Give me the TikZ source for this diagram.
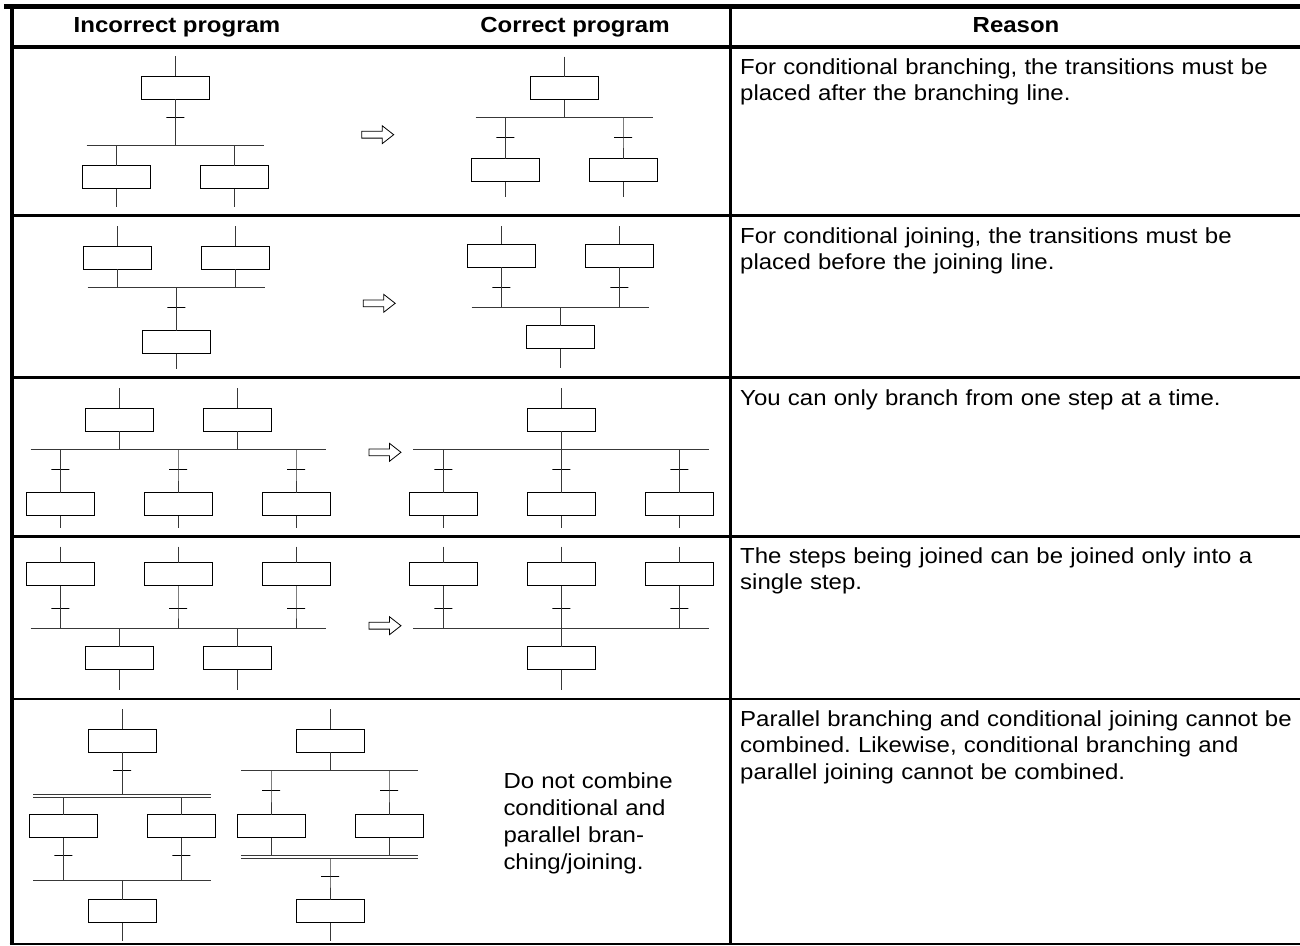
\documentclass[tikz,border=0pt]{standalone}
\usepackage{fontspec}
\setmainfont{Liberation Sans}[FakeStretch=1.1]
\usetikzlibrary{shapes.arrows}
\frenchspacing

\tikzset{
  stepbox/.style={draw=black, line width=0.95pt, minimum width=68pt, minimum height=23pt,
                  inner sep=0pt, outer sep=0pt, fill=white},
  trans/.style={draw=black, line width=0.95pt, minimum width=18pt, minimum height=0pt,
                inner sep=0pt, outer sep=0pt},
  link/.style={draw=black!78, line width=1pt},
  hollowarrow/.style={single arrow, draw=black, line width=0.8pt, inner xsep=0pt,
                inner ysep=3pt, minimum height=32pt, single arrow head extend=5.5pt,
                single arrow tip angle=76, outer sep=0pt},
  head/.style={font=\bfseries\fontsize{21.8}{26}\selectfont, inner sep=0pt, anchor=base},
  reason/.style={font=\fontsize{21.8}{26.2}\selectfont, text width=556pt, align=left,
                 inner sep=0pt, anchor=base west},
  heavyrule/.style={line width=4.5pt},
  rowrule/.style={line width=2.5pt},
}

\begin{document}
\begin{tikzpicture}[x=1pt, y=-1pt]
\useasboundingbox (0,0) rectangle (1300,945);

% ---------------- table frame ----------------
\draw[heavyrule] (4,6.5) -- (1300,6.5);
\draw[heavyrule] (11.5,47) -- (1300,47);
\foreach \yy in {215.3,377.7,536.7,699} \draw[rowrule] (11.5,\yy) -- (1300,\yy);
\draw[line width=1.8pt] (9.5,943.6) -- (1300,943.6);
\draw[line width=4pt] (11.5,4.25) -- (11.5,944.5);
\draw[line width=2.2pt] (730.5,4.25) -- (730.5,943.6);

% ---------------- headings ----------------
\node[head] (hinc) at (177,32.7) {Incorrect program};
\node[head] (hcor) at (575,32.7) {Correct program};
\node[head] (hrea) at (1016,32.7) {Reason};

% ================= row 1: conditional branching =================
% incorrect
\node[stepbox] (i1a) at (175.3,87.7) {};
\node[trans]   (i1t) at (175.3,117.3) {};
\coordinate (i1L) at (86.7,145.7);  \coordinate (i1R) at (264,145.7);
\node[stepbox] (i1b) at (116.2,177) {};
\node[stepbox] (i1c) at (234.2,177) {};
\coordinate (i1in) at (175.3,56);
\coordinate (i1bo) at (116.2,206.7); \coordinate (i1co) at (234.2,206.7);
\draw[link] (i1in) -- (i1a.north);
\draw[link] (i1a.south) -- (i1t.center) -- (i1a |- i1L);
\draw[link] (i1L) -- (i1R);
\draw[link] (i1b |- i1L) -- (i1b.north);
\draw[link] (i1c |- i1L) -- (i1c.north);
\draw[link] (i1b.south) -- (i1bo);
\draw[link] (i1c.south) -- (i1co);
% correct
\node[stepbox] (c1a) at (564,88) {};
\coordinate (c1in) at (564,56.7);
\coordinate (c1L) at (475.7,117.3); \coordinate (c1R) at (652.7,117.3);
\node[trans]   (c1bt) at (505.3,137.7) {};
\node[trans]   (c1ct) at (623,137.7) {};
\node[stepbox] (c1b) at (505.3,170) {};
\node[stepbox] (c1c) at (623,170) {};
\coordinate (c1bo) at (505.3,196.7); \coordinate (c1co) at (623,196.7);
\draw[link] (c1in) -- (c1a.north);
\draw[link] (c1a.south) -- (c1a |- c1L);
\draw[link] (c1L) -- (c1R);
\draw[link] (c1b |- c1L) -- (c1bt.center) -- (c1b.north);
\draw[link] (c1c |- c1L) -- (c1ct.center) -- (c1c.north);
\draw[link] (c1b.south) -- (c1bo);
\draw[link] (c1c.south) -- (c1co);
\node[hollowarrow] (ar1) at (375.5,134.7) {};
\node[reason] (t1) at (740,74) {For conditional branching, the transitions must be\\placed after the branching line.};

% ================= row 2: conditional joining =================
% incorrect
\node[stepbox] (i2a) at (117.5,257.8) {};
\node[stepbox] (i2b) at (235.3,257.8) {};
\coordinate (i2ain) at (117.5,226); \coordinate (i2bin) at (235.3,226);
\coordinate (i2L) at (87.7,287.3); \coordinate (i2R) at (265,287.3);
\node[trans]   (i2t) at (176.3,307.7) {};
\node[stepbox] (i2c) at (176.3,342) {};
\coordinate (i2co) at (176.3,369);
\draw[link] (i2ain) -- (i2a.north);
\draw[link] (i2bin) -- (i2b.north);
\draw[link] (i2a.south) -- (i2a |- i2L);
\draw[link] (i2b.south) -- (i2b |- i2L);
\draw[link] (i2L) -- (i2R);
\draw[link] (i2c |- i2L) -- (i2t.center) -- (i2c.north);
\draw[link] (i2c.south) -- (i2co);
% correct
\node[stepbox] (c2a) at (501.3,255.8) {};
\node[stepbox] (c2b) at (619.3,255.8) {};
\coordinate (c2ain) at (501.3,226); \coordinate (c2bin) at (619.3,226);
\node[trans]   (c2at) at (501.3,287.3) {};
\node[trans]   (c2bt) at (619.3,287.3) {};
\coordinate (c2L) at (471.7,307.7); \coordinate (c2R) at (649,307.7);
\node[stepbox] (c2c) at (560.7,337) {};
\coordinate (c2co) at (560.7,368.3);
\draw[link] (c2ain) -- (c2a.north);
\draw[link] (c2bin) -- (c2b.north);
\draw[link] (c2a.south) -- (c2at.center) -- (c2a |- c2L);
\draw[link] (c2b.south) -- (c2bt.center) -- (c2b |- c2L);
\draw[link] (c2L) -- (c2R);
\draw[link] (c2c |- c2L) -- (c2c.north);
\draw[link] (c2c.south) -- (c2co);
\node[hollowarrow] (ar2) at (377,303.3) {};
\node[reason] (t2) at (740,243) {For conditional joining, the transitions must be\\placed before the joining line.};

% ================= row 3: branching from one step =================
% incorrect
\node[stepbox] (i3a) at (119.2,419.7) {};
\node[stepbox] (i3b) at (237,419.7) {};
\coordinate (i3ain) at (119.2,388); \coordinate (i3bin) at (237,388);
\coordinate (i3L) at (30.7,449); \coordinate (i3R) at (325.7,449);
\foreach \n/\xx in {c/60.3,d/178,e/296} {
  \node[trans]   (i3\n t) at (\xx,469.3) {};
  \node[stepbox] (i3\n) at (\xx,504) {};
  \coordinate (i3\n o) at (\xx,528.3);
  \draw[link] (i3\n |- i3L) -- (i3\n t.center) -- (i3\n.north);
  \draw[link] (i3\n.south) -- (i3\n o);
}
\draw[link] (i3ain) -- (i3a.north);
\draw[link] (i3bin) -- (i3b.north);
\draw[link] (i3a.south) -- (i3a |- i3L);
\draw[link] (i3b.south) -- (i3b |- i3L);
\draw[link] (i3L) -- (i3R);
% correct
\node[stepbox] (c3a) at (561.3,419.7) {};
\coordinate (c3ain) at (561.3,388);
\coordinate (c3L) at (413.3,449); \coordinate (c3R) at (709,449);
\foreach \n/\xx in {b/443.3,c/561.3,d/679.3} {
  \node[trans]   (c3\n t) at (\xx,469.3) {};
  \node[stepbox] (c3\n) at (\xx,504) {};
  \coordinate (c3\n o) at (\xx,528.3);
  \draw[link] (c3\n |- c3L) -- (c3\n t.center) -- (c3\n.north);
  \draw[link] (c3\n.south) -- (c3\n o);
}
\draw[link] (c3ain) -- (c3a.north);
\draw[link] (c3a.south) -- (c3a |- c3L);
\draw[link] (c3L) -- (c3R);
\node[hollowarrow] (ar3) at (382.8,452.3) {};
\node[reason] (t3) at (740,405) {You can only branch from one step at a time.};

% ================= row 4: joining into a single step =================
% incorrect
\foreach \n/\xx in {a/60.3,b/178,c/296} {
  \coordinate (i4\n in) at (\xx,546.7);
  \node[stepbox] (i4\n) at (\xx,574) {};
  \node[trans]   (i4\n t) at (\xx,608.3) {};
  \draw[link] (i4\n in) -- (i4\n.north);
  \draw[link] (i4\n.south) -- (i4\n t.center) -- (\xx,628.7);
}
\coordinate (i4L) at (30.7,628.7); \coordinate (i4R) at (325.7,628.7);
\draw[link] (i4L) -- (i4R);
\foreach \n/\xx in {d/119.2,e/237} {
  \node[stepbox] (i4\n) at (\xx,658) {};
  \coordinate (i4\n o) at (\xx,690);
  \draw[link] (i4\n |- i4L) -- (i4\n.north);
  \draw[link] (i4\n.south) -- (i4\n o);
}
% correct
\foreach \n/\xx in {a/443.3,b/561.3,c/679.3} {
  \coordinate (c4\n in) at (\xx,546.7);
  \node[stepbox] (c4\n) at (\xx,574) {};
  \node[trans]   (c4\n t) at (\xx,608.3) {};
  \draw[link] (c4\n in) -- (c4\n.north);
  \draw[link] (c4\n.south) -- (c4\n t.center) -- (\xx,628.7);
}
\coordinate (c4L) at (413.3,628.7); \coordinate (c4R) at (709,628.7);
\draw[link] (c4L) -- (c4R);
\node[stepbox] (c4d) at (561.3,658) {};
\coordinate (c4do) at (561.3,690);
\draw[link] (c4d |- c4L) -- (c4d.north);
\draw[link] (c4d.south) -- (c4do);
\node[hollowarrow] (ar4) at (382.8,625.7) {};
\node[reason] (t4) at (740,563.3) {The steps being joined can be joined only into a\\single step.};

% ================= row 5: mixed branching/joining =================
% parallel branch, conditional join
\node[stepbox] (p5a) at (122.2,740.7) {};
\coordinate (p5ain) at (122.2,709);
\node[trans]   (p5at) at (122.2,770) {};
\coordinate (p5L1) at (33.3,794.3); \coordinate (p5R1) at (211,794.3);
\coordinate (p5L2) at (33.3,797.3); \coordinate (p5R2) at (211,797.3);
\coordinate (p5L3) at (33.3,880);   \coordinate (p5R3) at (211,880);
\draw[link] (p5ain) -- (p5a.north);
\draw[link] (p5a.south) -- (p5at.center) -- (p5a |- p5L1);
\draw[link] (p5L1) -- (p5R1);
\draw[link] (p5L2) -- (p5R2);
\foreach \n/\xx in {b/63.3,c/181.3} {
  \node[stepbox] (p5\n) at (\xx,826) {};
  \node[trans]   (p5\n t) at (\xx,855) {};
  \draw[link] (p5\n |- p5L2) -- (p5\n.north);
  \draw[link] (p5\n.south) -- (p5\n t.center) -- (p5\n |- p5L3);
}
\draw[link] (p5L3) -- (p5R3);
\node[stepbox] (p5d) at (122.2,911.2) {};
\coordinate (p5do) at (122.2,940.7);
\draw[link] (p5d |- p5L3) -- (p5d.north);
\draw[link] (p5d.south) -- (p5do);
% conditional branch, parallel join
\node[stepbox] (q5a) at (330,740.7) {};
\coordinate (q5ain) at (330,709);
\coordinate (q5L) at (241.3,770);    \coordinate (q5R) at (418.3,770);
\coordinate (q5L1) at (241.3,855.3); \coordinate (q5R1) at (418.3,855.3);
\coordinate (q5L2) at (241.3,858.3); \coordinate (q5R2) at (418.3,858.3);
\draw[link] (q5ain) -- (q5a.north);
\draw[link] (q5a.south) -- (q5a |- q5L);
\draw[link] (q5L) -- (q5R);
\foreach \n/\xx in {b/271,c/389} {
  \node[trans]   (q5\n t) at (\xx,790) {};
  \node[stepbox] (q5\n) at (\xx,826) {};
  \draw[link] (q5\n |- q5L) -- (q5\n t.center) -- (q5\n.north);
  \draw[link] (q5\n.south) -- (q5\n |- q5L1);
}
\draw[link] (q5L1) -- (q5R1);
\draw[link] (q5L2) -- (q5R2);
\node[trans]   (q5t) at (330,876) {};
\node[stepbox] (q5d) at (330,911.2) {};
\coordinate (q5do) at (330,940.7);
\draw[link] (q5d |- q5L2) -- (q5t.center) -- (q5d.north);
\draw[link] (q5d.south) -- (q5do);
\node[reason, text width=220pt, font=\fontsize{21.8}{27}\selectfont] (dn) at (503.3,788.3)
  {Do not combine\\conditional and\\parallel bran-\\ching/joining.};
\node[reason] (t5) at (740,726.7) {Parallel branching and conditional joining cannot be\\combined. Likewise, conditional branching and\\parallel joining cannot be combined.};

\end{tikzpicture}
\end{document}
